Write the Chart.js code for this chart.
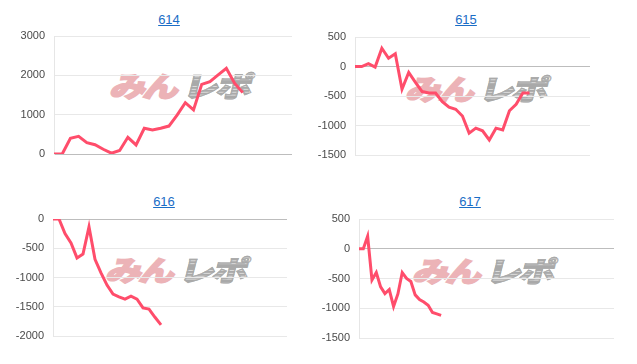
<!DOCTYPE html>
<html>
<head>
<meta charset="utf-8">
<script src="https://cdn.jsdelivr.net/npm/chart.js@4.4.1/dist/chart.umd.min.js"></script>
<style>
  body { margin: 0; background: #fff; font-family: Arial, "Liberation Sans", sans-serif; }
  #wrap { position: relative; width: 637px; height: 364px; overflow: hidden; }
  .title { position: absolute; width: 60px; text-align: center; font-size: 13px; line-height: 15px; }
  .title a { color: #1a6dc6; text-decoration: underline; }
  .mark {
    position: absolute; white-space: nowrap;
    font-family: "Noto Sans CJK JP", sans-serif; font-weight: 900;
    font-size: 36px; line-height: 36px; letter-spacing: -3px;
    transform: skewX(-14deg) scaleY(0.78);
  }
  .mark .a { color: #ecb3b7; -webkit-text-stroke: 2px #ecb3b7; }
  .mark .b {
    margin-left: 7px;
    color: transparent;
    background: repeating-linear-gradient(to bottom, #a9a9a9 0 3px, #dedede 3px 4px);
    -webkit-background-clip: text; background-clip: text;
    -webkit-text-stroke: 1.5px rgba(170,170,170,0.9);
  }
  canvas { position: absolute; }
</style>
</head>
<body>
<div id="wrap">
  <div class="title" style="left:139px;top:12px"><a href="#">614</a></div>
  <div class="title" style="left:436px;top:12px"><a href="#">615</a></div>
  <div class="title" style="left:134px;top:194px"><a href="#">616</a></div>
  <div class="title" style="left:440px;top:194px"><a href="#">617</a></div>

  <div class="mark" style="left:112px;top:67px"><span class="a">みん</span><span class="b">レポ</span></div>
  <div class="mark" style="left:408px;top:70px"><span class="a">みん</span><span class="b">レポ</span></div>
  <div class="mark" style="left:108px;top:251px"><span class="a">みん</span><span class="b">レポ</span></div>
  <div class="mark" style="left:415px;top:252px"><span class="a">みん</span><span class="b">レポ</span></div>

  <canvas id="c614" width="300" height="134" style="left:0;top:28px"></canvas>
  <canvas id="c615" width="280" height="134" style="left:318px;top:29px"></canvas>
  <canvas id="c616" width="295" height="133" style="left:0;top:211px"></canvas>
  <canvas id="c617" width="304" height="135" style="left:318px;top:211px"></canvas>
</div>
<script>
// difference per machine, one point per interval
const values614 = [0, 0, 400, 450, 290, 235, 120, 20, 90, 425, 230, 655, 610, 655, 710, 990, 1305, 1120, 1770, 1840, 2010, 2180, 1800, 1560];
const values615 = [0, 0, 50, -10, 310, 140, 215, -385, -100, -270, -425, -450, -450, -595, -690, -725, -840, -1130, -1045, -1090, -1245, -1045, -1075, -750, -640, -450, -450];
const values616 = [0, 0, -250, -410, -665, -600, -135, -690, -920, -1130, -1285, -1330, -1370, -1320, -1370, -1520, -1540, -1680, -1810];
const values617 = [0, 0, 210, -525, -400, -640, -755, -685, -970, -760, -400, -500, -550, -775, -855, -895, -950, -1070, -1095, -1120];

// number of slots on the hidden x axis
const slots614 = 30;
const slots615 = 36;
const slots616 = 40;
const slots617 = 60;

// y axis ranges: [min, max, step]
const yRange614 = [0, 3000, 1000];
const yRange615 = [-1500, 500, 500];
const yRange616 = [-2000, 0, 500];
const yRange617 = [-1500, 500, 500];

function makeChart(id, values, slots, yRange, axisWidth) {
  const ctx = document.getElementById(id).getContext('2d');
  return new Chart(ctx, {
    type: 'line',
    data: {
      datasets: [{
        data: values.map((v, i) => ({ x: i, y: v })),
        borderColor: '#ff4d6b',
        borderWidth: 3,
        pointRadius: 0,
        tension: 0,
        fill: false
      }]
    },
    options: {
      responsive: false,
      animation: false,
      devicePixelRatio: 1,
      layout: { padding: { top: 8, bottom: 8, right: 8, left: 0 } },
      plugins: { legend: { display: false }, tooltip: { enabled: false } },
      scales: {
        x: {
          type: 'linear',
          min: 0,
          max: slots - 1,
          display: false
        },
        y: {
          min: yRange[0],
          max: yRange[1],
          ticks: {
            stepSize: yRange[2],
            padding: 0,
            color: '#4a4a4a',
            font: { family: 'Arial, "Liberation Sans", sans-serif', size: 11 },
            callback: (v) => String(v)
          },
          grid: {
            drawTicks: true,
            tickLength: 9,
            tickColor: 'rgba(0,0,0,0)',
            lineWidth: 1,
            color: (c) => c.tick && c.tick.value === 0 ? '#bdbdbd' : '#e8e8e8'
          },
          border: { display: true, color: '#e6e6e6' },
          afterFit: (scale) => { scale.width = axisWidth; }
        }
      }
    }
  });
}

makeChart('c614', values614, slots614, yRange614, 54);
makeChart('c615', values615, slots615, yRange615, 37);
makeChart('c616', values616, slots616, yRange616, 53);
makeChart('c617', values617, slots617, yRange617, 41);
</script>
</body>
</html>
